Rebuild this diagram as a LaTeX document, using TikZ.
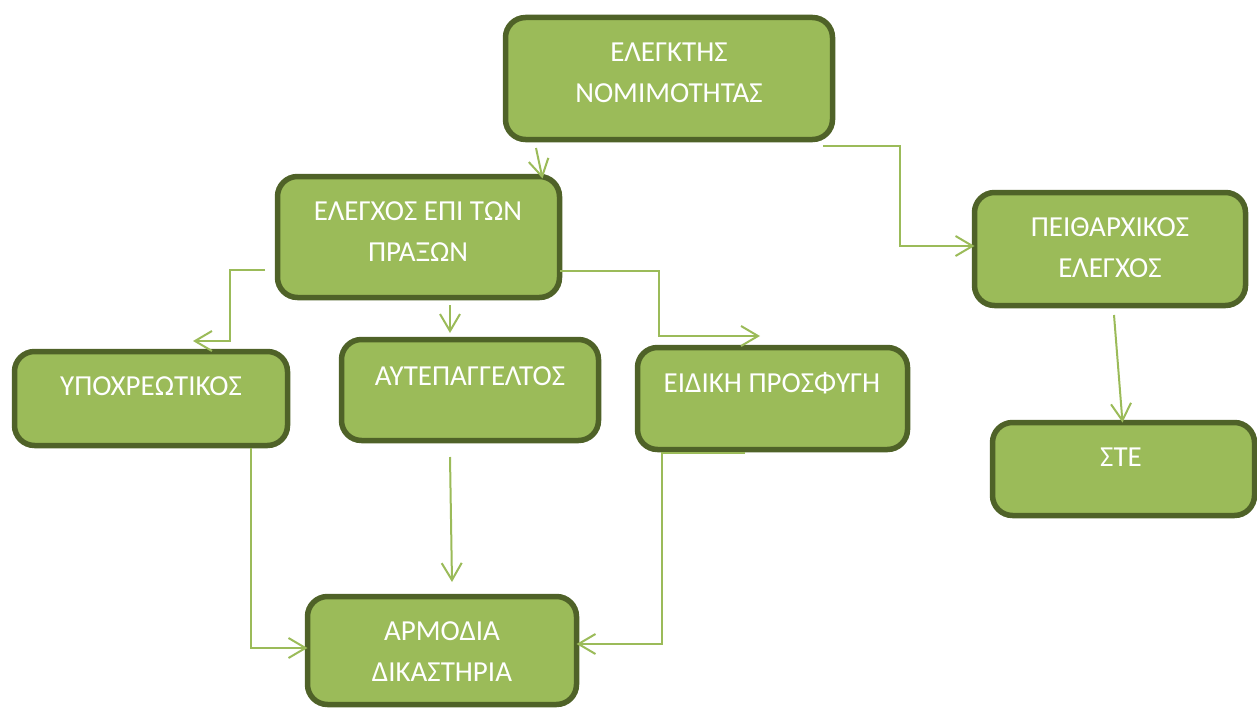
\documentclass[tikz,border=0pt]{standalone}
\usepackage{fontspec}
\setmainfont{Carlito}
\usetikzlibrary{arrows.meta,calc}
\definecolor{boxfill}{HTML}{9BBB59}
\definecolor{boxline}{HTML}{4F6228}
\definecolor{conn}{HTML}{9BBB59}
\begin{document}
\begin{tikzpicture}[x=1pt,y=-1pt,
  gbox/.style={draw=boxline,line width=5.5pt,fill=boxfill,rounded corners=20pt,inner sep=0pt,outer sep=0pt},
  gtxt/.style={text=white,font=\fontsize{29}{41}\selectfont,align=center,inner sep=0pt},
  conn/.style={draw=conn,line width=2pt,-{Straight Barb[length=17pt,width=20pt,line width=2pt]}}]
\useasboundingbox (0,0) rectangle (1257,709);
% boxes
\node[gbox,minimum width=327pt,minimum height=122pt] (b1) at (669,78.5) {};
\node[gbox,minimum width=282pt,minimum height=121pt] (b2) at (418.5,237) {};
\node[gbox,minimum width=271pt,minimum height=113pt] (b3) at (1110,249) {};
\node[gbox,minimum width=273pt,minimum height=94pt] (b4) at (151,398.5) {};
\node[gbox,minimum width=257pt,minimum height=101pt] (b5) at (470,390) {};
\node[gbox,minimum width=270pt,minimum height=102pt] (b6) at (772.5,398.5) {};
\node[gbox,minimum width=262pt,minimum height=93pt] (b7) at (1123.5,469) {};
\node[gbox,minimum width=269pt,minimum height=108pt] (b8) at (442,650.5) {};
% texts
\node[gtxt] (t1) at (669,72.5) {ΕΛΕΓΚΤΗΣ\\ΝΟΜΙΜΟΤΗΤΑΣ};
\node[gtxt] (t2) at (418,232) {ΕΛΕΓΧΟΣ ΕΠΙ ΤΩΝ\\ΠΡΑΞΩΝ};
\node[gtxt] (t3) at (1110,247.5) {ΠΕΙΘΑΡΧΙΚΟΣ\\ΕΛΕΓΧΟΣ};
\node[gtxt] (t4) at (151,386) {ΥΠΟΧΡΕΩΤΙΚΟΣ};
\node[gtxt] (t5) at (470,376) {ΑΥΤΕΠΑΓΓΕΛΤΟΣ};
\node[gtxt] (t6) at (772,383) {ΕΙΔΙΚΗ ΠΡΟΣΦΥΓΗ};
\node[gtxt] (t7) at (1121,457) {ΣΤΕ};
\node[gtxt] (t8) at (442,652) {ΑΡΜΟΔΙΑ\\ΔΙΚΑΣΤΗΡΙΑ};
% connectors
\coordinate (s12) at (536,148);
\draw[conn] (s12) -- ($(b2.north west)+(265,2)$);
\coordinate (s13) at (823,146);
\draw[conn] (s13) -- (900,146) -- (900,246) -- (b3.west |- 0,246);
\coordinate (s24) at (265,270);
\draw[conn] (s24) -- (230,270) -- (230,341) -- (193,341);
\coordinate (s25) at (450,305);
\draw[conn] (s25) -- (450,333);
\coordinate (s26) at (560,271);
\draw[conn] (s26) -- (659,271) -- (659,336) -- (760,336);
\coordinate (s48) at (251,448);
\draw[conn] (s48) -- (251,648) -- (b8.west |- 0,648);
\coordinate (s58) at (450,457);
\draw[conn] (s58) -- (452,582);
\coordinate (s68) at (745,453);
\draw[conn] (s68) -- (662,453) -- (662,644) -- (b8.east |- 0,644);
\coordinate (s37) at (1114,315);
\draw[conn] (s37) -- ($(b7.north west)+(130,0)$);
\end{tikzpicture}
\end{document}
